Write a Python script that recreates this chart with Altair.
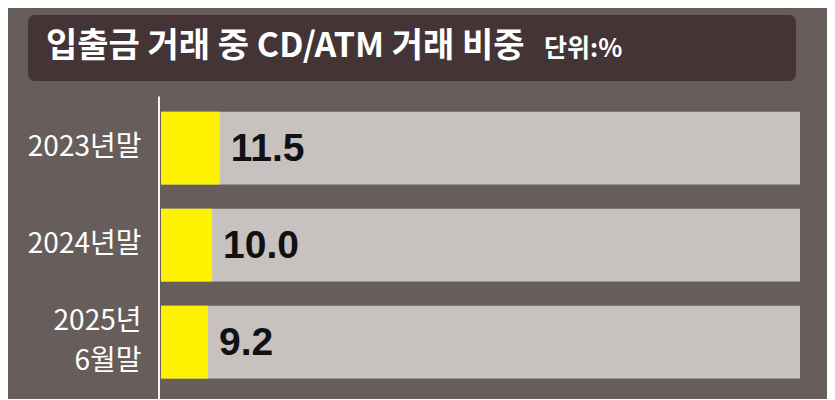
import altair as alt
import pandas as pd

categories = ["2023년말", "2024년말", "2025년 6월말"]
values = [11.5, 10.0, 9.2]
title_main = "입출금 거래 중 CD/ATM 거래 비중"
title_unit = "단위:%"

W, H = 639, 291
BG = "#675e5c"
df = pd.DataFrame({"cat": categories, "val": values})

y_enc = alt.Y("cat:N", sort=categories,
              scale=alt.Scale(paddingInner=0.25, paddingOuter=0.125),
              axis=alt.Axis(title=None, domain=False, ticks=False, grid=False,
                            labelExpr="split(datum.label, ' ')",
                            labelColor="#ffffff", labelFontSize=28,
                            labelFont="Noto Sans CJK KR", labelPadding=20,
                            labelLineHeight=40, labelFontWeight="normal",
                            labelBaseline=alt.condition(
                                "indexof(datum.value, ' ') >= 0",
                                alt.value("line-bottom"), alt.value("middle"))))
x_scale = alt.Scale(domain=[0, 125])

base = alt.Chart(df)

bg_bars = base.mark_bar(color="#c7c1c0").encode(
    y=y_enc, x=alt.value(0), x2=alt.value(W))

bars = base.mark_bar(color="#fff200").encode(
    y=alt.Y("cat:N", sort=categories),
    x=alt.X("val:Q", scale=x_scale, axis=None))

labels = base.mark_text(align="left", baseline="middle", dx=11, dy=1,
                        font="Liberation Sans", fontWeight="bold",
                        fontSize=39, color="#111111").encode(
    y=alt.Y("cat:N", sort=categories),
    x=alt.X("val:Q", scale=x_scale),
    text=alt.Text("val:Q", format=".1f"))

axis_line = alt.Chart(pd.DataFrame({"a": [0]})).mark_rule(
    color="#f2f2f2", strokeWidth=2).encode(
    x=alt.value(-2), y=alt.value(-3), y2=alt.value(H + 15))

title_box = alt.Chart(pd.DataFrame({"a": [0]})).mark_rect(
    color="#443436", cornerRadius=7).encode(
    x=alt.value(28 - 161), x2=alt.value(796 - 161),
    y=alt.value(15 - 99.5), y2=alt.value(81 - 99.5))

title_txt = alt.Chart(pd.DataFrame({"t": [title_main]})).mark_text(
    align="left", baseline="middle", font="Noto Sans CJK KR",
    fontWeight="bold", fontSize=34, color="#ffffff").encode(
    x=alt.value(46 - 161), y=alt.value(47 - 99.5), text="t:N")

unit_txt = alt.Chart(pd.DataFrame({"t": [title_unit]})).mark_text(
    align="left", baseline="middle", font="Noto Sans CJK KR",
    fontWeight="bold", fontSize=25, color="#ffffff").encode(
    x=alt.value(544 - 161), y=alt.value(49 - 99.5), text="t:N")

chart = alt.layer(title_box, title_txt, unit_txt, bg_bars, bars, labels, axis_line).properties(
    width=W, height=H, background=BG,
    padding={"left": 153, "top": 91.5, "right": 27, "bottom": 8},
    autosize=alt.AutoSizeParams(type="none"),
).configure_view(stroke=None)

chart.save("out.html", embed_options={"renderer": "svg", "actions": False})
